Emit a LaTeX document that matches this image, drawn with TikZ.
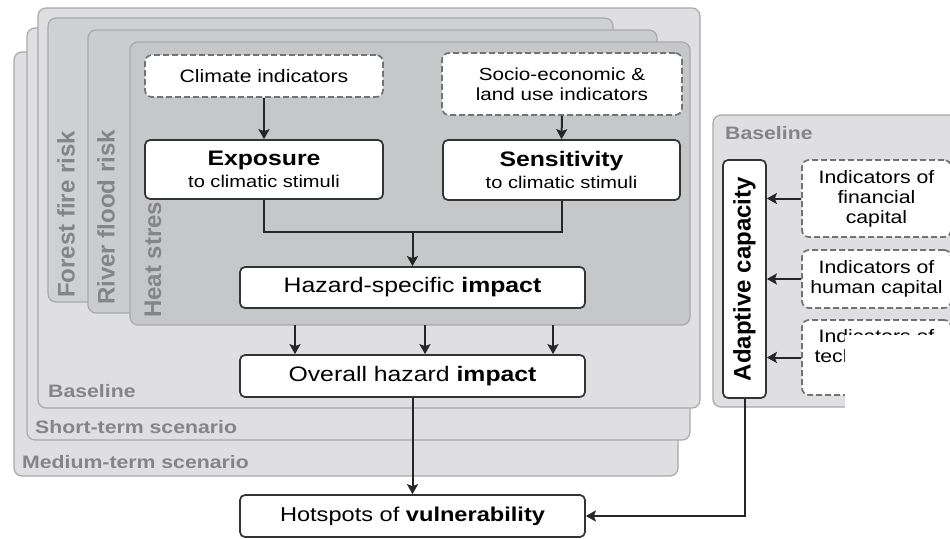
\documentclass[tikz,border=0pt]{standalone}
\usepackage{fontspec}
\setmainfont{Liberation Sans}[FakeStretch=1.18]
\newfontfamily\rotfont{Liberation Sans}
\usetikzlibrary{arrows.meta}
\definecolor{basegray}{HTML}{DFDFE1}
\definecolor{riskgray}{HTML}{CFD0D2}
\definecolor{floodgray}{HTML}{CBCCCE}
\definecolor{heatgray}{HTML}{C6C7C9}
\definecolor{rimgray}{HTML}{A9A9AB}
\definecolor{labelgray}{HTML}{858587}
\tikzset{
  panel/.style={draw=rimgray, line width=1.2pt, rounded corners=8pt},
  inbox/.style={draw=black!55, fill=white, dash pattern=on 6pt off 3pt, line width=1.7pt, rounded corners=7pt, align=center, inner sep=0pt},
  outbox/.style={draw=black!80, fill=white, line width=1.7pt, rounded corners=5pt, align=center, inner sep=0pt},
  panellabel/.style={anchor=west, inner sep=0pt, text=labelgray, font=\bfseries\fontsize{18}{20}\selectfont},
  risklabel/.style={rotate=90, anchor=west, inner sep=0pt, text=labelgray, font=\rotfont\bfseries\fontsize{24}{26}\selectfont},
  link/.style={draw=black!85, line width=2pt},
}
\begin{document}
\begin{tikzpicture}[x=1pt, y=-1pt, >={Stealth[length=10pt,width=11pt,inset=2pt]}]
  \useasboundingbox (0,0) rectangle (950,538);
  \draw[panel, fill=basegray] (14,52) rectangle (678,476);
  \draw[panel, fill=basegray] (27,28) rectangle (690,440);
  \draw[panel, fill=basegray] (38,8) rectangle (700,408);
  \draw[panel, fill=riskgray] (48,18) rectangle (613,302);
  \draw[panel, fill=floodgray] (88,30) rectangle (657,313);
  \draw[panel, fill=heatgray] (130,42) rectangle (690,325);
  \draw[panel, fill=basegray] (713,115) rectangle (980,407);

  \node[risklabel] (fire) at (66,298) {Forest fire risk};
  \node[risklabel] (flood) at (106,305) {River flood risk};
  \node[risklabel] (heat) at (153,318) {Heat stress};
  \node[panellabel] (base) at (48,391) {Baseline};
  \node[panellabel] (short) at (35,427) {Short-term scenario};
  \node[panellabel] (medium) at (22,462) {Medium-term scenario};
  \node[panellabel] (baseright) at (725,133) {Baseline};

  \node[inbox, minimum width=238pt, minimum height=42pt, font=\fontsize{18}{20}\selectfont] (climate) at (264,76) {Climate indicators};
  \node[inbox, minimum width=240pt, minimum height=62pt, font=\fontsize{17.5}{19.5}\selectfont] (socio) at (562,84) {Socio-economic \&\\land use indicators};
  \node[outbox, minimum width=238pt, minimum height=59pt, font=\fontsize{21}{22}\selectfont] (exposure) at (264,169.5) {\textbf{Exposure}\\{\fontsize{17}{18}\selectfont to climatic stimuli}};
  \node[outbox, minimum width=237pt, minimum height=60pt, font=\fontsize{21}{22}\selectfont] (sensitivity) at (561.5,170) {\textbf{Sensitivity}\\{\fontsize{17}{18}\selectfont to climatic stimuli}};
  \node[outbox, minimum width=345pt, minimum height=41pt, font=\fontsize{21}{22}\selectfont] (hazard) at (412.5,287.5) {Hazard-specific \textbf{impact}};
  \node[outbox, minimum width=345pt, minimum height=42pt, font=\fontsize{21}{22}\selectfont] (overall) at (412.5,376) {Overall hazard \textbf{impact}};
  \node[outbox, minimum width=345pt, minimum height=42pt, font=\fontsize{20}{22}\selectfont] (hotspots) at (412.5,516) {Hotspots of \textbf{vulnerability}};
  \node[outbox, minimum width=43pt, minimum height=238pt] (adaptive) at (744.5,279) {\rotatebox{90}{\rotfont\bfseries\fontsize{24}{26}\selectfont Adaptive capacity}};
  \node[inbox, minimum width=149pt, minimum height=77pt, font=\fontsize{18}{20}\selectfont] (financial) at (876.5,198.5) {Indicators of\\financial\\capital};
  \node[inbox, minimum width=149pt, minimum height=58pt, font=\fontsize{18}{20}\selectfont] (human) at (876.5,279) {Indicators of\\human capital};
  \node[inbox, minimum width=149pt, minimum height=75pt, font=\fontsize{18}{20}\selectfont] (technical) at (876.5,357.5) {Indicators of\\technological\\capital};

  \coordinate (merge) at (412.5,232);
  \draw[link,->] (climate.south) -- (exposure.north);
  \draw[link,->] (socio.south) -- (sensitivity.north);
  \draw[link] (exposure.south) |- (merge) -| (sensitivity.south);
  \draw[link,->] (merge) -- (hazard.north);
  \foreach \n/\x in {1/295, 2/425, 3/553} {
    \coordinate (drop\n) at (\x,325);
    \draw[link,->] (drop\n) -- (drop\n |- overall.north);
  }
  \draw[link,->] (overall.south) -- (hotspots.north);
  \draw[link,->] (adaptive.south) |- (hotspots.east);
  \foreach \src in {financial, human, technical}
    \draw[link,->] (\src.west) -- (\src.west -| adaptive.east);

  \fill[white] (845,335) rectangle (955,412);
\end{tikzpicture}
\end{document}
